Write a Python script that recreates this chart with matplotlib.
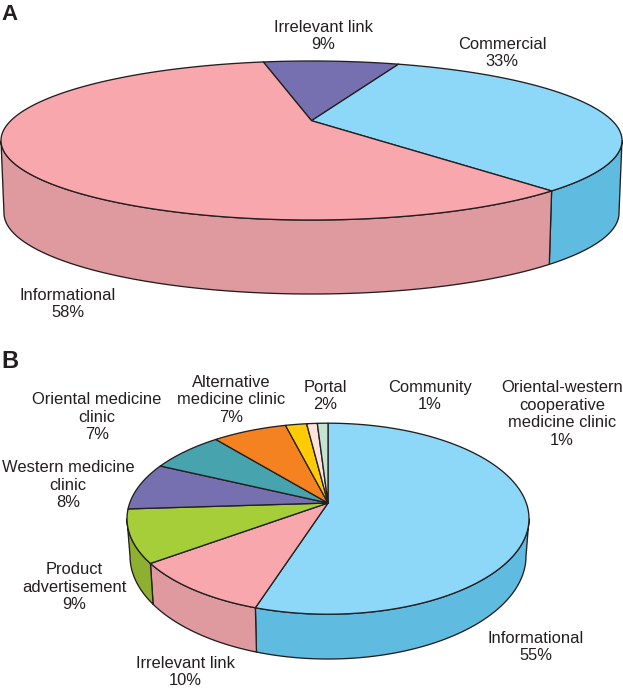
import matplotlib
matplotlib.use('Agg')
import matplotlib.pyplot as plt
import numpy as np
from matplotlib.patches import Polygon

plt.rcParams['font.family'] = ['Liberation Sans', 'DejaVu Sans']

# panel A
a_names = ['Irrelevant link', 'Commercial', 'Informational']
a_values = [9, 33, 58]
a_top = ['#7770B0', '#8DD8F8', '#F8A8AC']
a_side = ['#5F5A90', '#60BBE0', '#DF9A9F']

# panel B
b_names = ['Informational', 'Irrelevant link', 'Product advertisement', 'Western medicine clinic',
           'Oriental medicine clinic', 'Alternative medicine clinic', 'Portal', 'Community',
           'Oriental-western cooperative medicine clinic']
b_values = [55, 10, 9, 8, 7, 7, 2, 1, 1]
b_top = ['#8DD8F8', '#F8A8AC', '#A6CE39', '#7770B0', '#47A3AD', '#F58220', '#FFCB05', '#FDE3DC', '#C4E3D3']
b_side = ['#60BBE0', '#DF9A9F', '#8DB030', '#5F5A90', '#3A8A93', '#D06A10', '#D9AC00', '#E0C5BE', '#A5C5B5']

LINE = '#231F20'


def pie3d(ax, values, tops, sides, start, top_e, bot_e, apex_y):
    # top_e / bot_e = (cx, cy, rx, ry) of top face and lower rim, in pixels
    cx, cy, rx, ry = top_e
    bx, by, brx, bry = bot_e
    e = (cy - apex_y) / ry
    p = e / (1 + np.sqrt(1 - e * e))  # centre of the circle seen in perspective
    total = float(sum(values))
    ang = start
    faces = []
    for v, c, s in zip(values, tops, sides):
        sweep = 360.0 * v / total
        th = np.radians(np.linspace(ang, ang - sweep, 500))
        w = np.exp(1j * th)
        z = (w + 1j * p) / (1 - 1j * p * w)
        t = np.angle(z)
        x, y = cx + rx * np.cos(t), cy - ry * np.sin(t)
        faces.append((x, y, c))
        front = np.sin(t) <= 0
        if front.any():
            x0, y0 = x[front], y[front]
            x1, y1 = bx + brx * np.cos(t[front]), by - bry * np.sin(t[front])
            pts = np.r_[np.c_[x0, y0], np.c_[x1, y1][::-1]]
            ax.add_patch(Polygon(pts, closed=True, fc=s, ec=LINE, lw=0.95, joinstyle='round'))
        ang -= sweep
    for x, y, c in faces:
        pts = np.r_[[[cx, apex_y]], np.c_[x, y]]
        ax.add_patch(Polygon(pts, closed=True, fc=c, ec=LINE, lw=0.95, joinstyle='round'))


fig = plt.figure(figsize=(6.23, 6.88), dpi=100)
ax = fig.add_axes([0, 0, 1, 1])
ax.set_xlim(0, 623)
ax.set_ylim(688, 0)
ax.axis('off')

pie3d(ax, a_values, a_top, a_side, 101.5, (311.5, 140.5, 310.5, 79.5), (311.5, 213, 307.5, 81), 120.7)
pie3d(ax, b_values, b_top, b_side, 90, (328, 518.7, 201, 95.5), (328, 556, 198, 103), 503)

labels = [
    (323, 36, 'Irrelevant link\n9%'),
    (502, 53, 'Commercial\n33%'),
    (68, 304, 'Informational\n58%'),
    (97, 417, 'Oriental medicine\nclinic\n7%'),
    (231, 400, 'Alternative\nmedicine clinic\n7%'),
    (325, 396, 'Portal\n2%'),
    (430, 396, 'Community\n1%'),
    (562, 414, 'Oriental-western\ncooperative\nmedicine clinic\n1%'),
    (68, 485, 'Western medicine\nclinic\n8%'),
    (74, 587, 'Product\nadvertisement\n9%'),
    (185, 672, 'Irrelevant link\n10%'),
    (536, 647, 'Informational\n55%'),
]
for x, y, s in labels:
    ax.text(x, y, s, ha='center', va='center', fontsize=11.9, color='#231F20', linespacing=1.2)

ax.text(1, 20, 'A', ha='left', va='baseline', fontsize=16, fontweight='bold', color='#231F20')
ax.text(1, 368, 'B', ha='left', va='baseline', fontsize=17, fontweight='bold', color='#231F20')

fig.savefig('out.png', dpi=100)
